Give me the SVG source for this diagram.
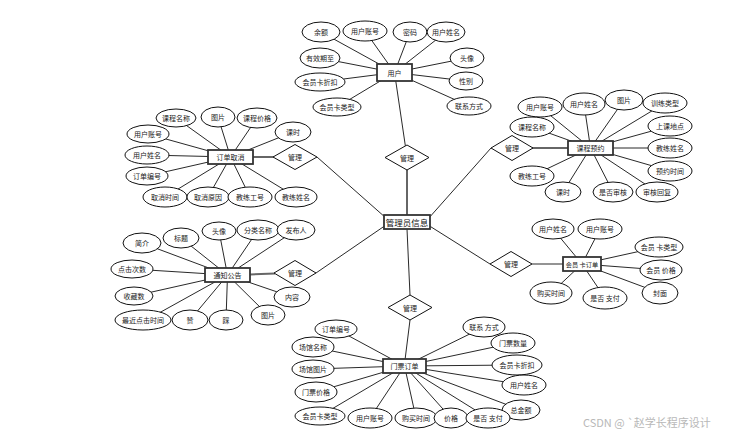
<svg xmlns="http://www.w3.org/2000/svg" width="749" height="435" viewBox="0 0 749 435">
<style>
.bg{fill:#fff}
.ln line{stroke:#111;stroke-width:0.9}
.ln line.thick{stroke:#666;stroke-width:2}
ellipse{fill:#fff;stroke:#111;stroke-width:1}
rect.ent{fill:#fff;stroke:#333;stroke-width:1.8}
polygon{fill:#fff;stroke:#111;stroke-width:1}
text{font-family:"Noto Sans CJK SC","Noto Sans",sans-serif;font-size:7px;fill:#222;text-anchor:middle;dominant-baseline:central}
text.big{font-size:8.5px;fill:#111}
text.sm{font-size:6.2px}
text.wm{font-size:11px;fill:#b8b8b8;text-anchor:start}
</style>
<rect class="bg" x="0" y="0" width="749" height="435"/>
<g id="connectors" class="ln">
<!-- 用户 -->
<line x1="394.5" y1="72.5" x2="321" y2="32"/>
<line x1="394.5" y1="72.5" x2="365" y2="31"/>
<line x1="394.5" y1="72.5" x2="410" y2="32"/>
<line x1="394.5" y1="72.5" x2="446" y2="32"/>
<line x1="394.5" y1="72.5" x2="320" y2="58"/>
<line x1="394.5" y1="72.5" x2="320" y2="82"/>
<line x1="394.5" y1="72.5" x2="337" y2="107"/>
<line x1="394.5" y1="72.5" x2="467" y2="58"/>
<line x1="394.5" y1="72.5" x2="466" y2="81"/>
<line x1="394.5" y1="72.5" x2="469" y2="106"/>
<line x1="394.5" y1="72.5" x2="407" y2="157"/>
<!-- 订单取消 -->
<line x1="230.5" y1="157" x2="176" y2="118"/>
<line x1="230.5" y1="157" x2="218" y2="117"/>
<line x1="230.5" y1="157" x2="257" y2="118"/>
<line x1="230.5" y1="157" x2="293" y2="132"/>
<line x1="230.5" y1="157" x2="148" y2="134"/>
<line x1="230.5" y1="157" x2="147" y2="155"/>
<line x1="230.5" y1="157" x2="147" y2="176"/>
<line x1="230.5" y1="157" x2="165" y2="197"/>
<line x1="230.5" y1="157" x2="208" y2="197"/>
<line x1="230.5" y1="157" x2="250" y2="197"/>
<line x1="230.5" y1="157" x2="296" y2="197"/>
<line class="thick" x1="253" y1="157" x2="274" y2="157"/>
<line x1="317" y1="157" x2="386" y2="218"/>
<!-- 课程预约 -->
<line x1="590.5" y1="148" x2="540" y2="107"/>
<line x1="590.5" y1="148" x2="584" y2="104"/>
<line x1="590.5" y1="148" x2="624" y2="100"/>
<line x1="590.5" y1="148" x2="665" y2="103"/>
<line x1="590.5" y1="148" x2="532" y2="127"/>
<line x1="590.5" y1="148" x2="670" y2="126"/>
<line x1="590.5" y1="148" x2="670" y2="148"/>
<line x1="590.5" y1="148" x2="670" y2="171"/>
<line x1="590.5" y1="148" x2="532" y2="176"/>
<line x1="590.5" y1="148" x2="563" y2="192"/>
<line x1="590.5" y1="148" x2="613" y2="192"/>
<line x1="590.5" y1="148" x2="657" y2="192"/>
<line class="thick" x1="568" y1="148" x2="532" y2="148"/>
<line x1="491" y1="148" x2="428" y2="219"/>
<!-- 通知公告 -->
<line x1="227.5" y1="275" x2="142" y2="243"/>
<line x1="227.5" y1="275" x2="181" y2="238"/>
<line x1="227.5" y1="275" x2="219" y2="231"/>
<line x1="227.5" y1="275" x2="258" y2="230"/>
<line x1="227.5" y1="275" x2="296" y2="230"/>
<line x1="227.5" y1="275" x2="132" y2="269"/>
<line x1="227.5" y1="275" x2="134" y2="296"/>
<line x1="227.5" y1="275" x2="292" y2="297"/>
<line x1="227.5" y1="275" x2="150" y2="318"/>
<line x1="227.5" y1="275" x2="190" y2="320"/>
<line x1="227.5" y1="275" x2="226" y2="320"/>
<line x1="227.5" y1="275" x2="268" y2="315"/>
<line class="thick" x1="250" y1="274.5" x2="275" y2="273.5"/>
<line x1="316" y1="273" x2="386" y2="225"/>
<!-- 会员卡订单 -->
<line x1="582" y1="264" x2="553" y2="229"/>
<line x1="582" y1="264" x2="600" y2="229"/>
<line x1="582" y1="264" x2="659" y2="247"/>
<line x1="582" y1="264" x2="661" y2="270"/>
<line x1="582" y1="264" x2="660" y2="293"/>
<line x1="582" y1="264" x2="551" y2="293"/>
<line x1="582" y1="264" x2="605" y2="298"/>
<line class="thick" x1="564" y1="264" x2="532" y2="264" style="stroke-width:1.4"/>
<line x1="490" y1="264" x2="428" y2="225"/>
<!-- 管理员信息 -->
<line class="thick" x1="407" y1="215" x2="407" y2="170"/>
<line x1="407" y1="229" x2="410" y2="295"/>
<line x1="410" y1="320" x2="405" y2="360"/>
<!-- 门票订单 -->
<line x1="404.5" y1="366" x2="336" y2="329"/>
<line x1="404.5" y1="366" x2="313" y2="347"/>
<line x1="404.5" y1="366" x2="313" y2="369"/>
<line x1="404.5" y1="366" x2="316" y2="392"/>
<line x1="404.5" y1="366" x2="320" y2="416"/>
<line x1="404.5" y1="366" x2="370" y2="418"/>
<line x1="404.5" y1="366" x2="416" y2="418"/>
<line x1="404.5" y1="366" x2="451" y2="418"/>
<line x1="404.5" y1="366" x2="488" y2="418"/>
<line x1="404.5" y1="366" x2="521" y2="410"/>
<line x1="404.5" y1="366" x2="484" y2="327"/>
<line x1="404.5" y1="366" x2="513" y2="343"/>
<line x1="404.5" y1="366" x2="517" y2="365"/>
<line x1="404.5" y1="366" x2="524" y2="385"/>
</g>

<!-- 用户 cluster -->
<g id="user"><rect class="ent" x="377" y="64" width="35" height="17"/><text x="394.5" y="72.5">用户</text></g>
<g id="user-balance"><ellipse cx="321" cy="32" rx="19" ry="10"/><text x="321" y="32">余额</text></g>
<g id="user-account"><ellipse cx="365" cy="31" rx="22" ry="10"/><text x="365" y="31">用户账号</text></g>
<g id="user-password"><ellipse cx="410" cy="32" rx="17" ry="10"/><text x="410" y="32">密码</text></g>
<g id="user-name"><ellipse cx="446" cy="32" rx="19" ry="10"/><text x="446" y="32">用户姓名</text></g>
<g id="user-valid"><ellipse cx="320" cy="58" rx="20" ry="10"/><text x="320" y="58">有效期至</text></g>
<g id="user-discount"><ellipse cx="320" cy="82" rx="25" ry="9"/><text x="320" y="82">会员卡折扣</text></g>
<g id="user-cardtype"><ellipse cx="337" cy="107" rx="24" ry="9"/><text x="337" y="107">会员卡类型</text></g>
<g id="user-avatar"><ellipse cx="467" cy="58" rx="17" ry="10"/><text x="467" y="58">头像</text></g>
<g id="user-gender"><ellipse cx="466" cy="81" rx="17" ry="9"/><text x="466" y="81">性别</text></g>
<g id="user-contact"><ellipse cx="469" cy="106" rx="22" ry="9"/><text x="469" y="106">联系方式</text></g>
<g id="rel-user"><polygon points="407,145 429,157.5 407,170 385,157.5"/><text x="407" y="157.5">管理</text></g>

<!-- 订单取消 cluster -->
<g id="cancel"><rect class="ent" x="208" y="150" width="45" height="14"/><text x="230.5" y="157">订单取消</text></g>
<g id="cancel-course"><ellipse cx="176" cy="118" rx="20" ry="9"/><text x="176" y="118">课程名称</text></g>
<g id="cancel-pic"><ellipse cx="218" cy="117" rx="17" ry="10"/><text x="218" y="117">图片</text></g>
<g id="cancel-price"><ellipse cx="257" cy="118" rx="20" ry="10"/><text x="257" y="118">课程价格</text></g>
<g id="cancel-hours"><ellipse cx="293" cy="132" rx="18" ry="10"/><text x="293" y="132">课时</text></g>
<g id="cancel-account"><ellipse cx="148" cy="134" rx="21" ry="9"/><text x="148" y="134">用户账号</text></g>
<g id="cancel-uname"><ellipse cx="147" cy="155" rx="22" ry="9"/><text x="147" y="155">用户姓名</text></g>
<g id="cancel-no"><ellipse cx="147" cy="176" rx="21" ry="9"/><text x="147" y="176">订单编号</text></g>
<g id="cancel-time"><ellipse cx="165" cy="197" rx="22" ry="10"/><text x="165" y="197">取消时间</text></g>
<g id="cancel-reason"><ellipse cx="208" cy="197" rx="21" ry="10"/><text x="208" y="197">取消原因</text></g>
<g id="cancel-coachno"><ellipse cx="250" cy="197" rx="22" ry="10"/><text x="250" y="197">教练工号</text></g>
<g id="cancel-coachname"><ellipse cx="296" cy="197" rx="21" ry="10"/><text x="296" y="197">教练姓名</text></g>
<g id="rel-cancel"><polygon points="295,144.5 317,157 295,169.5 273,157"/><text x="295" y="157">管理</text></g>

<!-- 课程预约 cluster -->
<g id="booking"><rect class="ent" x="568" y="141" width="45" height="14"/><text x="590.5" y="148">课程预约</text></g>
<g id="bk-account"><ellipse cx="540" cy="107" rx="22" ry="10"/><text x="540" y="107">用户账号</text></g>
<g id="bk-uname"><ellipse cx="584" cy="104" rx="21" ry="11"/><text x="584" y="104">用户姓名</text></g>
<g id="bk-pic"><ellipse cx="624" cy="100" rx="19" ry="10"/><text x="624" y="100">图片</text></g>
<g id="bk-type"><ellipse cx="665" cy="103" rx="22" ry="10"/><text x="665" y="103">训练类型</text></g>
<g id="bk-course"><ellipse cx="532" cy="127" rx="22" ry="10"/><text x="532" y="127">课程名称</text></g>
<g id="bk-place"><ellipse cx="670" cy="126" rx="22" ry="10"/><text x="670" y="126">上课地点</text></g>
<g id="bk-coachname"><ellipse cx="670" cy="148" rx="22" ry="10"/><text x="670" y="148">教练姓名</text></g>
<g id="bk-time"><ellipse cx="670" cy="171" rx="22" ry="10"/><text x="670" y="171">预约时间</text></g>
<g id="bk-coachno"><ellipse cx="532" cy="176" rx="22" ry="10"/><text x="532" y="176">教练工号</text></g>
<g id="bk-hours"><ellipse cx="563" cy="192" rx="18" ry="10"/><text x="563" y="192">课时</text></g>
<g id="bk-audit"><ellipse cx="613" cy="192" rx="20" ry="10"/><text x="613" y="192">是否审核</text></g>
<g id="bk-reply"><ellipse cx="657" cy="192" rx="21" ry="10"/><text x="657" y="192">审核回复</text></g>
<g id="rel-booking"><polygon points="512,135.5 533,148 512,160.5 491,148"/><text x="512" y="148">管理</text></g>

<!-- 通知公告 cluster -->
<g id="notice"><rect class="ent" x="205" y="268" width="45" height="14"/><text x="227.5" y="275">通知公告</text></g>
<g id="nt-intro"><ellipse cx="142" cy="243" rx="19" ry="10"/><text x="142" y="243">简介</text></g>
<g id="nt-title"><ellipse cx="181" cy="238" rx="18" ry="10"/><text x="181" y="238">标题</text></g>
<g id="nt-avatar"><ellipse cx="219" cy="231" rx="17" ry="9"/><text x="219" y="231">头像</text></g>
<g id="nt-cat"><ellipse cx="258" cy="230" rx="21" ry="10"/><text x="258" y="230">分类名称</text></g>
<g id="nt-pub"><ellipse cx="296" cy="230" rx="19" ry="10"/><text x="296" y="230">发布人</text></g>
<g id="nt-clicks"><ellipse cx="132" cy="269" rx="21" ry="9"/><text x="132" y="269">点击次数</text></g>
<g id="nt-fav"><ellipse cx="134" cy="296" rx="19" ry="9"/><text x="134" y="296">收藏数</text></g>
<g id="nt-content"><ellipse cx="292" cy="297" rx="18" ry="10"/><text x="292" y="297">内容</text></g>
<g id="nt-lastclick"><ellipse cx="143" cy="320" rx="28" ry="10"/><text x="143" y="320">最近点击时间</text></g>
<g id="nt-like"><ellipse cx="190" cy="320" rx="18" ry="10"/><text x="190" y="320">赞</text></g>
<g id="nt-dislike"><ellipse cx="226" cy="320" rx="17" ry="10"/><text x="226" y="320">踩</text></g>
<g id="nt-pic"><ellipse cx="268" cy="315" rx="17" ry="10"/><text x="268" y="315">图片</text></g>
<g id="rel-notice"><polygon points="295,260.5 316,273 295,285.5 274,273"/><text x="295" y="273">管理</text></g>

<!-- 会员卡订单 cluster -->
<g id="cardorder"><rect class="ent" x="563" y="257" width="38" height="14"/><text class="sm" x="582" y="264">会员 卡订单</text></g>
<g id="co-uname"><ellipse cx="553" cy="229" rx="21" ry="10"/><text x="553" y="229">用户姓名</text></g>
<g id="co-account"><ellipse cx="600" cy="229" rx="22" ry="10"/><text x="600" y="229">用户账号</text></g>
<g id="co-type"><ellipse cx="659" cy="247" rx="24" ry="10"/><text x="659" y="247">会员 卡类型</text></g>
<g id="co-price"><ellipse cx="661" cy="270" rx="21" ry="10"/><text x="661" y="270">会员 价格</text></g>
<g id="co-cover"><ellipse cx="660" cy="293" rx="18" ry="11"/><text x="660" y="293">封面</text></g>
<g id="co-time"><ellipse cx="551" cy="293" rx="21" ry="11"/><text x="551" y="293">购买时间</text></g>
<g id="co-paid"><ellipse cx="605" cy="298" rx="22" ry="11"/><text x="605" y="298">是否 支付</text></g>
<g id="rel-cardorder"><polygon points="511,251.5 532,264 511,276.5 490,264"/><text x="511" y="264">管理</text></g>

<!-- 管理员信息 -->
<g id="admin"><rect class="ent" x="384" y="215" width="46" height="14"/><text class="big" x="407" y="222">管理员信息</text></g>
<g id="rel-ticket"><polygon points="410,295 432,307.5 410,320 388,307.5"/><text x="410" y="307.5">管理</text></g>

<!-- 门票订单 cluster -->
<g id="ticket"><rect class="ent" x="383" y="359" width="43" height="14"/><text x="404.5" y="366">门票订单</text></g>
<g id="tk-no"><ellipse cx="336" cy="329" rx="21" ry="9"/><text x="336" y="329">订单编号</text></g>
<g id="tk-venue"><ellipse cx="313" cy="347" rx="21" ry="10"/><text x="313" y="347">场馆名称</text></g>
<g id="tk-venuepic"><ellipse cx="313" cy="369" rx="21" ry="9"/><text x="313" y="369">场馆图片</text></g>
<g id="tk-price"><ellipse cx="316" cy="392" rx="21" ry="10"/><text x="316" y="392">门票价格</text></g>
<g id="tk-cardtype"><ellipse cx="320" cy="416" rx="25" ry="9"/><text x="320" y="416">会员卡类型</text></g>
<g id="tk-account"><ellipse cx="370" cy="418" rx="22" ry="10"/><text x="370" y="418">用户账号</text></g>
<g id="tk-time"><ellipse cx="416" cy="418" rx="21" ry="10"/><text x="416" y="418">购买时间</text></g>
<g id="tk-amount"><ellipse cx="451" cy="418" rx="17" ry="10"/><text x="451" y="418">价格</text></g>
<g id="tk-total"><ellipse cx="521" cy="410" rx="19" ry="10"/><text x="521" y="410">总金额</text></g>
<g id="tk-paid"><ellipse cx="488" cy="418" rx="22" ry="10"/><text x="488" y="418">是否 支付</text></g>
<g id="tk-contact"><ellipse cx="484" cy="327" rx="21" ry="10"/><text x="484" y="327">联系 方式</text></g>
<g id="tk-qty"><ellipse cx="513" cy="343" rx="22" ry="10"/><text x="513" y="343">门票数量</text></g>
<g id="tk-discount"><ellipse cx="517" cy="365" rx="25" ry="10"/><text x="517" y="365">会员卡折扣</text></g>
<g id="tk-uname"><ellipse cx="524" cy="385" rx="22" ry="10"/><text x="524" y="385">用户姓名</text></g>

<text class="wm" x="583" y="422">CSDN @ `赵学长程序设计</text>
</svg>
